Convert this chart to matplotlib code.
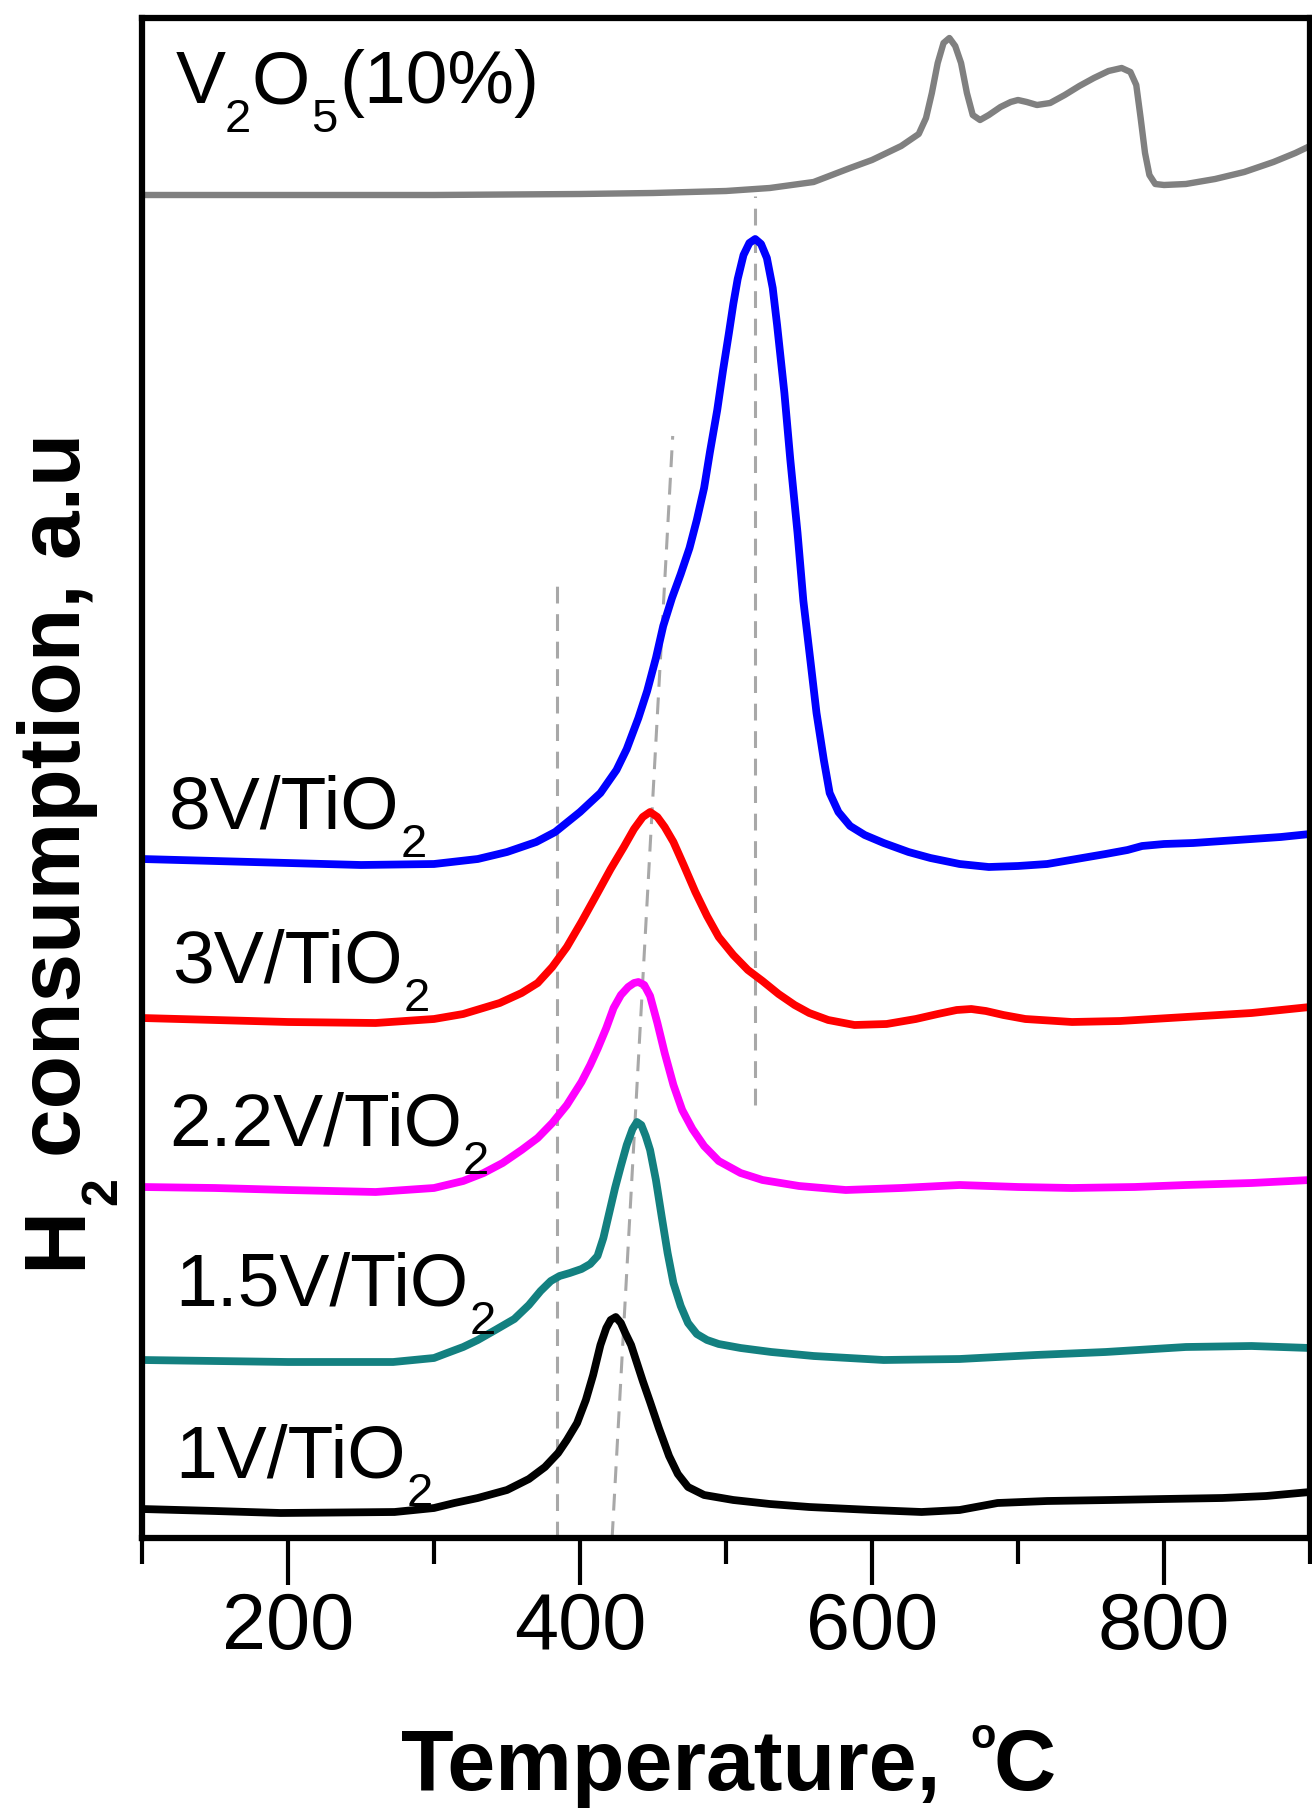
import numpy as np
import matplotlib
matplotlib.use('Agg')
import matplotlib.pyplot as plt
from matplotlib.ticker import FixedLocator, NullLocator
from matplotlib.transforms import IdentityTransform

plt.rcParams['font.family'] = ['Liberation Sans', 'DejaVu Sans']

# ---------------- data (temperature in degC, signal in a.u., offset as plotted) -------------
T_v2o5 = [100, 200, 300, 400, 450, 500, 530, 560, 585, 600, 620, 632, 637, 641, 645, 649, 653,
          657, 661, 665, 669, 674, 680, 688, 695, 700, 706, 713, 722, 732, 742, 752, 762, 771,
          777, 781, 784, 787, 790, 794, 800, 815, 835, 855, 875, 890, 900]
y_v2o5 = [134.3, 134.3, 134.3, 134.4, 134.5, 134.7, 135.0, 135.6, 137.0, 137.8, 139.2, 140.4,
          142.0, 144.5, 147.5, 149.5, 150.0, 149.2, 147.5, 144.5, 142.3, 141.8, 142.3, 143.1,
          143.6, 143.8, 143.6, 143.3, 143.5, 144.3, 145.2, 146.0, 146.7, 147.0, 146.6, 145.3,
          142.0, 138.5, 136.3, 135.4, 135.3, 135.4, 135.9, 136.6, 137.6, 138.5, 139.2]

T_8v = [100, 150, 200, 250, 300, 330, 350, 370, 383, 400, 414, 425, 432, 440, 446, 452, 457,
        463, 469, 475, 480, 485, 489, 494, 498, 502, 505, 508, 512, 516, 520, 524, 528, 532,
        535, 540, 544, 549, 553, 558, 562, 567, 571, 577, 585, 595, 608, 625, 640, 660, 680,
        700, 720, 740, 760, 775, 785, 800, 820, 840, 860, 880, 900]
y_8v = [67.9, 67.7, 67.5, 67.3, 67.4, 67.9, 68.6, 69.6, 70.6, 72.6, 74.5, 76.8, 78.9, 82.0,
        84.7, 88.0, 91.2, 94.0, 96.4, 99.0, 101.8, 105.0, 108.6, 112.8, 116.8, 120.5, 123.4,
        125.9, 128.3, 129.5, 129.9, 129.4, 128.0, 125.0, 121.3, 114.5, 107.9, 100.5, 93.7,
        87.5, 82.5, 77.8, 74.5, 72.6, 71.2, 70.3, 69.5, 68.6, 68.0, 67.4, 67.1, 67.2, 67.4,
        67.9, 68.4, 68.8, 69.2, 69.4, 69.5, 69.7, 69.9, 70.1, 70.4]

T_3v = [100, 150, 200, 260, 300, 320, 345, 360, 371, 381, 391, 401, 412, 421, 430, 437, 443,
        448, 453, 458, 464, 471, 479, 487, 495, 505, 515, 525, 536, 547, 557, 570, 588, 610,
        630, 645, 658, 668, 678, 690, 705, 737, 770, 815, 860, 900]
y_3v = [52.0, 51.8, 51.6, 51.5, 51.9, 52.4, 53.5, 54.5, 55.5, 57.1, 59.1, 61.6, 64.5, 66.9,
        69.1, 70.9, 72.1, 72.6, 72.1, 71.1, 69.6, 67.3, 64.6, 62.2, 60.1, 58.3, 56.8, 55.7,
        54.4, 53.3, 52.5, 51.8, 51.3, 51.4, 51.9, 52.4, 52.8, 52.9, 52.7, 52.3, 51.9, 51.6,
        51.7, 52.1, 52.5, 53.1]

T_22v = [100, 150, 200, 260, 300, 320, 334, 347, 360, 371, 381, 391, 401, 407, 412, 418, 423,
         428, 433, 437, 440, 444, 448, 453, 458, 464, 470, 477, 485, 495, 510, 525, 550, 582,
         620, 660, 700, 737, 780, 815, 860, 900]
y_22v = [35.1, 35.0, 34.8, 34.6, 35.0, 35.7, 36.5, 37.5, 38.8, 40.0, 41.5, 43.3, 45.6, 47.3,
         48.9, 51.0, 53.0, 54.3, 55.1, 55.5, 55.6, 55.3, 54.2, 51.5, 48.5, 45.3, 42.8, 40.9,
         39.2, 37.7, 36.5, 35.8, 35.2, 34.8, 35.0, 35.3, 35.1, 35.0, 35.1, 35.3, 35.5, 35.8]

T_15v = [100, 150, 200, 272, 300, 309, 320, 330, 342, 355, 365, 373, 380, 386, 393, 401, 407,
         412, 416, 420, 424, 428, 432, 436, 439, 442, 445, 448, 452, 456, 460, 464, 469, 474,
         480, 487, 495, 510, 531, 560, 608, 660, 712, 760, 815, 860, 900]
y_15v = [17.8, 17.7, 17.6, 17.6, 18.0, 18.5, 19.1, 19.8, 20.8, 21.9, 23.3, 24.7, 25.7, 26.2,
         26.5, 26.9, 27.4, 28.2, 30.0, 32.5, 35.0, 37.2, 39.3, 40.9, 41.6, 41.3, 40.2, 38.8,
         35.8, 32.1, 28.5, 25.5, 23.2, 21.5, 20.4, 19.8, 19.4, 19.0, 18.6, 18.2, 17.8, 17.9,
         18.3, 18.6, 19.1, 19.2, 19.0]

T_1v = [100, 150, 195, 273, 300, 314, 330, 350, 365, 376, 385, 391, 398, 404, 409, 414, 418,
        421, 424.5, 428, 431, 435, 439, 443, 448, 454, 461, 467, 474, 485, 505, 530, 557, 600,
        634, 660, 686, 720, 763, 800, 840, 870, 900]
y_1v = [2.9, 2.7, 2.5, 2.6, 3.0, 3.5, 4.0, 4.8, 5.9, 7.1, 8.5, 9.8, 11.5, 13.8, 16.3, 19.3,
        21.0, 21.8, 22.1, 21.5, 20.5, 19.3, 17.5, 15.7, 13.6, 11.0, 8.2, 6.4, 5.1, 4.3, 3.8,
        3.4, 3.1, 2.8, 2.6, 2.8, 3.5, 3.7, 3.8, 3.9, 4.0, 4.2, 4.6]

# guide lines (dashed)
guide_T = [[384, 384], [422, 463.5], [520, 520]]
guide_y = [[0, 95.5], [0, 110.2], [43.3, 134.2]]

series = [
    (T_v2o5, y_v2o5, '#808080', 4.6),
    (T_8v, y_8v, '#0000ff', 5.6),
    (T_3v, y_3v, '#ff0000', 5.6),
    (T_22v, y_22v, '#ff00ff', 5.6),
    (T_15v, y_15v, '#138080', 5.6),
    (T_1v, y_1v, '#000000', 5.6),
]

# labels: (main, subscript, T anchor, baseline)
labels = [
    ('8V/TiO', '2', 118.5, 71.0),
    ('3V/TiO', '2', 120.5, 55.6),
    ('2.2V/TiO', '2', 118.5, 39.3),
    ('1.5V/TiO', '2', 122.6, 23.3),
    ('1V/TiO', '2', 122.6, 6.1),
]

xticks_major = [200, 400, 600, 800]
xticks_minor = [100, 300, 500, 700, 900]

# ---------------- figure ---------------------------------------------------------------
W, H = 1312, 1809
fig = plt.figure(figsize=(W / 100, H / 100), dpi=100)
ax = fig.add_axes([142 / W, 271 / H, 1168 / W, 1520 / H])

for gT, gy in zip(guide_T, guide_y):
    ax.plot(gT, gy, color='#a8a8a8', lw=2.2, dashes=(5.5, 3.5), zorder=1)

for T, y, c, lw in series:
    ax.plot(T, y, color=c, lw=lw, solid_joinstyle='round', solid_capstyle='round', zorder=2)

ax.set_xlim(100, 900)
ax.set_ylim(0, 152)
ax.yaxis.set_major_locator(NullLocator())
ax.xaxis.set_major_locator(FixedLocator(xticks_major))
ax.xaxis.set_minor_locator(FixedLocator(xticks_minor))
ax.tick_params(axis='x', which='major', direction='out', length=34, width=3.0,
               labelsize=57, pad=4)
ax.tick_params(axis='x', which='minor', direction='out', length=19, width=3.0)
for s in ax.spines.values():
    s.set_linewidth(4.5)

fig.canvas.draw()
renderer = fig.canvas.get_renderer()


def rich(pieces, anchor, rotation=0, align='left'):
    """pieces: (text, size, weight, dy_pt, gap_px) laid out along baseline."""
    texts, widths = [], []
    for (s, size, weight, dy, gap) in pieces:
        t = fig.text(0, 0, s, fontsize=size, fontweight=weight,
                     transform=IdentityTransform(), ha='left', va='baseline',
                     rotation_mode='anchor')
        w = t.get_window_extent(renderer).width
        texts.append(t)
        widths.append(w)
    total = sum(widths) + sum(p[4] for p in pieces)
    th = np.deg2rad(rotation)
    d = np.array([np.cos(th), np.sin(th)])
    u = np.array([-np.sin(th), np.cos(th)])
    pos = -total / 2 if align == 'center' else 0.0
    a = np.array(anchor, dtype=float)
    for t, w, (s, size, weight, dy, gap) in zip(texts, widths, pieces):
        pos += gap
        p = a + pos * d + dy * 100 / 72 * u
        t.set_position((p[0], p[1]))
        t.set_rotation(rotation)
        pos += w
    return texts


for main, sub, Tx, yb in labels:
    anc = ax.transData.transform((Tx, yb))
    rich([(main, 54, 'normal', 0, 0), (sub, 34, 'normal', -21, 1)], anc)

anc = ax.transData.transform((123.0, 143.5))
rich([('V', 54, 'normal', 0, 0), ('2', 34, 'normal', -21, -1),
      ('O', 54, 'normal', 0, 1), ('5', 34, 'normal', -21, 1),
      ('(10%)', 54, 'normal', 0, 2)], anc)

# x label
rich([('Temperature,', 62, 'bold', 0, 0), ('o', 30, 'bold', 30, 30),
      ('C', 62, 'bold', 0, -2)], (728, 19), align='center')

# y label
rich([('H', 63, 'bold', 0, 0), ('2', 36, 'bold', -26, 1),
      ('consumption, a.u', 63, 'bold', 0, 20)], (80, 958), rotation=90, align='center')

fig.savefig('out.png', dpi=100)
